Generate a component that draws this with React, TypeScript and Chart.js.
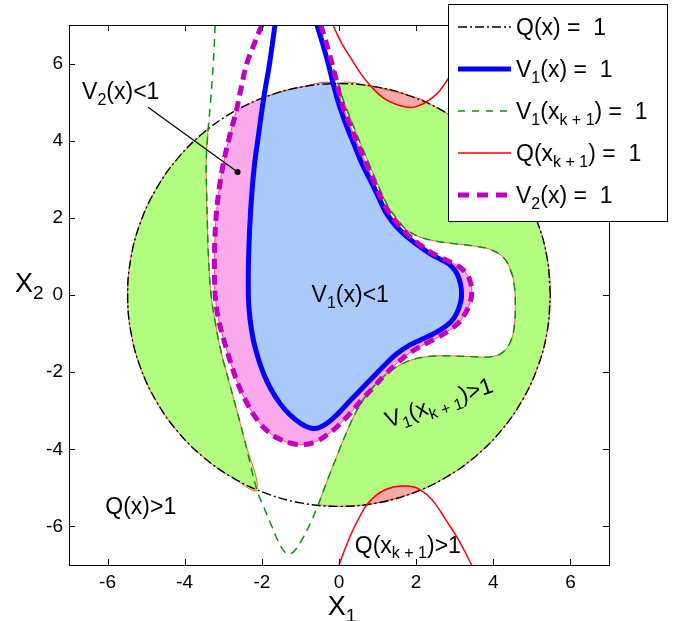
import React, { useEffect, useRef } from 'react';
import { Chart, registerables } from 'chart.js';

Chart.register(...registerables);

type P = [number, number];
type Part = { t: string; sub?: boolean };

const FONT = '"Liberation Sans", Arial, Helvetica, sans-serif';

const axisMin = -7;
const axisMax = 7;
const xTickValues = [-6, -4, -2, 0, 2, 4, 6];
const yTickValues = [-6, -4, -2, 0, 2, 4, 6];

// Q(x) = 1  (points every 10 degrees, closed)
const qCircle: P[] = [
  [5.48, 0], [5.397, 0.952], [5.15, 1.874], [4.746, 2.74], [4.198, 3.523], [3.523, 4.198], [2.74, 4.746], [1.874, 5.15], [0.952, 5.397],
  [0, 5.48], [-0.952, 5.397], [-1.874, 5.15], [-2.74, 4.746], [-3.523, 4.198], [-4.198, 3.523], [-4.746, 2.74], [-5.15, 1.874], [-5.397, 0.952],
  [-5.48, 0], [-5.397, -0.952], [-5.15, -1.874], [-4.746, -2.74], [-4.198, -3.523], [-3.523, -4.198], [-2.74, -4.746], [-1.874, -5.15], [-0.952, -5.397],
  [0, -5.48], [0.952, -5.397], [1.874, -5.15], [2.74, -4.746], [3.523, -4.198], [4.198, -3.523], [4.746, -2.74], [5.15, -1.874], [5.397, -0.952],
  [5.48, 0],
];

// V1(x) = 1
const v1Curve: P[] = [
  [-1.66, 7.0], [-1.8, 6.0], [-1.95, 5.12], [-2.08, 4.2], [-2.2, 3.3], [-2.29, 2.2], [-2.34, 1.1], [-2.35, 0.0],
  [-2.31, -0.6], [-2.22, -1.17], [-2.1, -1.62], [-1.96, -2.03], [-1.76, -2.45], [-1.53, -2.81], [-1.28, -3.1], [-1.01, -3.32],
  [-0.78, -3.44], [-0.55, -3.45], [-0.3, -3.32], [0.0, -3.05], [0.28, -2.75], [0.6, -2.42], [0.89, -2.12], [1.2, -1.8],
  [1.49, -1.53], [1.8, -1.32], [2.1, -1.17], [2.4, -1.03], [2.62, -0.91], [2.82, -0.77], [2.98, -0.6], [3.1, -0.36],
  [3.17, -0.1], [3.17, 0.15], [3.12, 0.4], [3.02, 0.62], [2.85, 0.8], [2.62, 0.93], [2.38, 1.06], [2.1, 1.25],
  [1.8, 1.48], [1.49, 1.77], [1.25, 2.08], [1.06, 2.46], [0.85, 2.9], [0.6, 3.4], [0.38, 3.93], [0.15, 4.5],
  [-0.02, 5.0], [-0.15, 5.48], [-0.28, 6.0], [-0.42, 6.5], [-0.57, 7.0],
];

// V2(x) = 1
const v2Curve: P[] = [
  [-2.0, 7.0], [-2.2, 6.5], [-2.39, 6.0], [-2.53, 5.4], [-2.66, 4.79], [-2.84, 4.1], [-2.99, 3.45], [-3.1, 2.8],
  [-3.18, 2.1], [-3.22, 1.4], [-3.23, 0.7], [-3.21, 0.0], [-3.13, -0.6], [-2.99, -1.15], [-2.81, -1.75], [-2.6, -2.35],
  [-2.36, -2.85], [-2.11, -3.25], [-1.83, -3.55], [-1.53, -3.74], [-1.22, -3.85], [-0.92, -3.88], [-0.6, -3.8], [-0.3, -3.62],
  [0.0, -3.37], [0.28, -3.08], [0.58, -2.73], [0.89, -2.4], [1.19, -2.07], [1.49, -1.78], [1.88, -1.47], [2.27, -1.25],
  [2.6, -1.08], [2.88, -0.9], [3.1, -0.72], [3.26, -0.5], [3.38, -0.25], [3.44, 0.02], [3.42, 0.28], [3.33, 0.52],
  [3.16, 0.7], [2.96, 0.82], [2.66, 0.96], [2.36, 1.12], [2.1, 1.3], [1.8, 1.55], [1.49, 1.88], [1.27, 2.18],
  [1.1, 2.5], [0.9, 2.95], [0.68, 3.45], [0.46, 3.97], [0.25, 4.5], [0.06, 5.0], [-0.05, 5.48], [-0.18, 6.0],
  [-0.32, 6.5], [-0.47, 7.0],
];

// V1(x_{k+1}) = 1
const v1NextCurve: P[] = [
  [-3.21, 7.0], [-3.26, 6.0], [-3.33, 5.0], [-3.39, 4.32], [-3.44, 3.5], [-3.43, 2.6], [-3.41, 1.77], [-3.38, 0.9],
  [-3.32, 0.05], [-3.2, -0.75], [-3.05, -1.5], [-2.85, -2.25], [-2.66, -2.95], [-2.45, -3.75], [-2.13, -5.05], [-1.93, -5.55],
  [-1.74, -6.0], [-1.58, -6.38], [-1.44, -6.62], [-1.31, -6.72], [-1.16, -6.64], [-0.98, -6.38], [-0.77, -5.98], [-0.54, -5.44],
  [-0.3, -4.8], [-0.06, -4.19], [0.2, -3.55], [0.46, -3.0], [0.8, -2.48], [1.15, -2.12], [1.55, -1.83], [2.0, -1.65],
  [2.5, -1.58], [3.0, -1.58], [3.5, -1.6], [3.95, -1.6], [4.25, -1.48], [4.45, -1.2], [4.55, -0.75], [4.57, -0.25],
  [4.55, 0.2], [4.47, 0.58], [4.28, 0.95], [3.95, 1.17], [3.5, 1.27], [3.0, 1.33], [2.5, 1.4], [2.05, 1.52],
  [1.72, 1.72], [1.55, 1.92], [1.3, 2.25], [1.16, 2.52], [0.96, 2.97], [0.75, 3.47], [0.53, 3.99], [0.32, 4.52],
  [0.13, 5.0], [-0.02, 5.48], [-0.2, 6.05], [-0.35, 6.5], [-0.5, 7.0],
];

// Q(x_{k+1}) = 1
const qNextTop: P[] = [
  [-0.16, 7.0], [0.1, 6.47], [0.34, 6.09], [0.55, 5.76], [0.82, 5.42], [1.05, 5.19], [1.3, 5.02], [1.55, 4.92],
  [1.85, 4.86], [2.05, 4.9], [2.25, 5.0], [2.44, 5.13], [2.62, 5.31], [2.83, 5.61], [3.1, 6.1], [3.4, 6.75], [3.55, 7.0],
];
const qNextBottom: P[] = [
  [0.0, -7.0], [0.15, -6.6], [0.35, -6.12], [0.55, -5.72], [0.72, -5.44], [0.95, -5.2], [1.2, -5.05], [1.45, -4.97],
  [1.7, -4.95], [1.95, -4.98], [2.1, -5.05], [2.28, -5.18], [2.48, -5.39], [2.75, -5.8], [3.1, -6.35], [3.44, -7.0],
];

// annotation pointer for "V2(x)<1"
const pointerLine: P[] = [[-4.95, 4.87], [-2.63, 3.19]];

// filled regions assembled from the curves above
const greenLeft: P[] = [...v1NextCurve.slice(3, 15), ...qCircle.slice(13, 25).reverse(), v1NextCurve[3]];
const greenRight: P[] = [
  ...v1NextCurve.slice(23, 58),
  ...qCircle.slice(0, 9).reverse(),
  ...qCircle.slice(27, 36).reverse(),
  v1NextCurve[23],
];
const blueRegion: P[] = [...v1Curve.slice(2, 50), qCircle[10], qCircle[11], v1Curve[2]];
const pinkRegion: P[] = [...v2Curve.slice(4, 55), qCircle[10], qCircle[11], v2Curve[4]];
const salmonTop: P[] = [...qNextTop.slice(4, 11), qCircle[7], qCircle[8], qNextTop[4]];
const salmonBottom: P[] = [...qNextBottom.slice(4, 11), qCircle[29], qCircle[28], qNextBottom[4]];

const annotations: { parts: Part[]; x: number; y: number; rot: number }[] = [
  { parts: [{ t: 'V' }, { t: '2', sub: true }, { t: '(x)<1' }], x: -6.66, y: 5.08, rot: 0 },
  { parts: [{ t: 'V' }, { t: '1', sub: true }, { t: '(x)<1' }], x: -0.71, y: -0.18, rot: 0 },
  { parts: [{ t: 'V' }, { t: '1', sub: true }, { t: '(x' }, { t: 'k + 1', sub: true }, { t: ')>1' }], x: 1.28, y: -3.45, rot: -19 },
  { parts: [{ t: 'Q(x)>1' }], x: -6.06, y: -5.67, rot: 0 },
  { parts: [{ t: 'Q(x' }, { t: 'k + 1', sub: true }, { t: ')>1' }], x: 0.41, y: -6.68, rot: 0 },
];

const legendItems: { parts: Part[]; color: string; width: number; dash: number[] }[] = [
  { parts: [{ t: 'Q(x) =  1' }], color: '#000000', width: 1.4, dash: [9, 3, 2, 3] },
  { parts: [{ t: 'V' }, { t: '1', sub: true }, { t: '(x) =  1' }], color: '#0000ff', width: 5, dash: [] },
  { parts: [{ t: 'V' }, { t: '1', sub: true }, { t: '(x' }, { t: 'k + 1', sub: true }, { t: ') =  1' }], color: '#109010', width: 1.5, dash: [7, 7] },
  { parts: [{ t: 'Q(x' }, { t: 'k + 1', sub: true }, { t: ') =  1' }], color: '#ff0000', width: 1.5, dash: [] },
  { parts: [{ t: 'V' }, { t: '2', sub: true }, { t: '(x) =  1' }], color: '#c000c0', width: 5, dash: [11, 8] },
];

function drawRich(ctx: CanvasRenderingContext2D, parts: Part[], x: number, y: number, size: number, align: 'left' | 'center' = 'left') {
  const subSize = Math.round(size * 0.7);
  const widths = parts.map((p) => {
    ctx.font = `${p.sub ? subSize : size}px ${FONT}`;
    return ctx.measureText(p.t).width;
  });
  const total = widths.reduce((a, b) => a + b, 0);
  let cx = align === 'center' ? x - total / 2 : x;
  parts.forEach((p, i) => {
    ctx.font = `${p.sub ? subSize : size}px ${FONT}`;
    ctx.fillText(p.t, cx, p.sub ? y + size * 0.25 : y);
    cx += widths[i];
  });
}

const pts = (a: P[]) => a.map(([x, y]) => ({ x, y }));

const region = (data: P[], color: string, order: number) => ({
  data: pts(data),
  fill: 'shape',
  backgroundColor: color,
  borderColor: 'rgba(255,0,0,0.75)',
  borderWidth: 0.8,
  tension: 0.4,
  pointRadius: 0,
  order,
});

const curve = (data: P[], color: string, width: number, dash: number[], order: number) => ({
  data: pts(data),
  fill: false,
  borderColor: color,
  backgroundColor: color,
  borderWidth: width,
  borderDash: dash,
  tension: 0.4,
  pointRadius: 0,
  order,
});

const overlayPlugin = {
  id: 'overlay',
  afterDatasetsDraw(chart: any) {
    const ctx: CanvasRenderingContext2D = chart.ctx;
    const xs = chart.scales.x;
    const ys = chart.scales.y;
    ctx.save();
    ctx.fillStyle = '#000';
    ctx.textBaseline = 'alphabetic';
    for (const a of annotations) {
      ctx.save();
      ctx.translate(xs.getPixelForValue(a.x), ys.getPixelForValue(a.y));
      ctx.rotate((a.rot * Math.PI) / 180);
      drawRich(ctx, a.parts, 0, 0, 23);
      ctx.restore();
    }
    ctx.restore();
  },
  afterDraw(chart: any) {
    const ctx: CanvasRenderingContext2D = chart.ctx;
    const { left, right, top, bottom } = chart.chartArea;
    const xs = chart.scales.x;
    const ys = chart.scales.y;
    ctx.save();
    // frame
    ctx.strokeStyle = '#000';
    ctx.lineWidth = 1;
    ctx.setLineDash([]);
    ctx.strokeRect(Math.round(left) + 0.5, Math.round(top) + 0.5, Math.round(right - left), Math.round(bottom - top));
    // inward ticks on all four sides
    ctx.beginPath();
    for (const v of xTickValues) {
      const px = Math.round(xs.getPixelForValue(v)) + 0.5;
      ctx.moveTo(px, bottom);
      ctx.lineTo(px, bottom - 6);
      ctx.moveTo(px, top);
      ctx.lineTo(px, top + 6);
    }
    for (const v of yTickValues) {
      const py = Math.round(ys.getPixelForValue(v)) + 0.5;
      ctx.moveTo(left, py);
      ctx.lineTo(left + 6, py);
      ctx.moveTo(right, py);
      ctx.lineTo(right - 6, py);
    }
    ctx.stroke();
    // axis titles
    ctx.fillStyle = '#000';
    ctx.textBaseline = 'alphabetic';
    drawRich(ctx, [{ t: 'X' }, { t: '1', sub: true }], (left + right) / 2 + 3, 615, 27, 'center');
    drawRich(ctx, [{ t: 'X' }, { t: '2', sub: true }], 15, 292, 27);
    // legend
    const lx = 448, ly = 4, lw = 219, lh = 217;
    ctx.fillStyle = '#fff';
    ctx.fillRect(lx, ly, lw, lh);
    ctx.strokeStyle = '#000';
    ctx.lineWidth = 1;
    ctx.strokeRect(lx + 0.5, ly + 0.5, lw, lh);
    legendItems.forEach((it, i) => {
      const cy = 27 + i * 42;
      ctx.save();
      ctx.strokeStyle = it.color;
      ctx.lineWidth = it.width;
      ctx.setLineDash(it.dash);
      ctx.beginPath();
      ctx.moveTo(458, cy);
      ctx.lineTo(511, cy);
      ctx.stroke();
      ctx.restore();
      ctx.fillStyle = '#000';
      drawRich(ctx, it.parts, 516, cy + 8, 23);
    });
    ctx.restore();
  },
};

export default function App() {
  const ref = useRef<HTMLCanvasElement>(null);
  useEffect(() => {
    const canvas = ref.current;
    if (!canvas) return;
    const tickFont = { family: FONT, size: 19 };
    const chart = new Chart(canvas, {
      type: 'line',
      data: {
        datasets: [
          region(greenLeft, 'rgb(178,252,128)', 20),
          region(greenRight, 'rgb(178,252,128)', 20),
          region(salmonTop, 'rgb(255,168,168)', 19),
          region(salmonBottom, 'rgb(255,168,168)', 19),
          region(pinkRegion, 'rgb(250,170,236)', 18),
          region(blueRegion, 'rgb(170,202,250)', 17),
          curve(qCircle, '#000000', 1.4, [9, 3, 2, 3], 10),
          curve(v1Curve, '#0000ff', 5, [], 9),
          curve(v1NextCurve, '#109010', 1.5, [8, 6], 8),
          curve(qNextTop, '#ff0000', 1.5, [], 7),
          curve(qNextBottom, '#ff0000', 1.5, [], 7),
          curve(v2Curve, '#c000c0', 5, [10, 6], 6),
          {
            data: pts(pointerLine),
            fill: false,
            borderColor: '#000',
            borderWidth: 1.2,
            tension: 0,
            pointRadius: [0, 3],
            pointBackgroundColor: '#000',
            pointBorderWidth: 0,
            order: 1,
          },
        ] as any,
      },
      options: {
        animation: false,
        responsive: false,
        events: [],
        layout: { padding: { left: 0, top: 25, right: 74, bottom: 0 } },
        plugins: { legend: { display: false }, tooltip: { enabled: false }, title: { display: false } },
        elements: { point: { radius: 0, hoverRadius: 0 } },
        scales: {
          x: {
            type: 'linear',
            min: axisMin,
            max: axisMax,
            afterBuildTicks: (s: any) => {
              s.ticks = xTickValues.map((v) => ({ value: v }));
            },
            afterFit: (s: any) => {
              s.height = 56;
            },
            grid: { display: false, drawTicks: false },
            border: { display: false },
            ticks: { color: '#000', font: tickFont, padding: 6, maxRotation: 0, autoSkip: false, callback: (v: any) => String(v) },
          },
          y: {
            type: 'linear',
            min: axisMin,
            max: axisMax,
            afterBuildTicks: (s: any) => {
              s.ticks = yTickValues.map((v) => ({ value: v }));
            },
            afterFit: (s: any) => {
              s.width = 69;
            },
            grid: { display: false, drawTicks: false },
            border: { display: false },
            ticks: { color: '#000', font: tickFont, padding: 6, autoSkip: false, callback: (v: any) => String(v) },
          },
        },
      } as any,
      plugins: [overlayPlugin],
    });
    return () => chart.destroy();
  }, []);
  return (
    <div style={{ position: 'fixed', left: 0, top: 0, width: 683, height: 621, background: '#ffffff' }}>
      <canvas ref={ref} width={683} height={621} style={{ display: 'block' }} />
    </div>
  );
}
